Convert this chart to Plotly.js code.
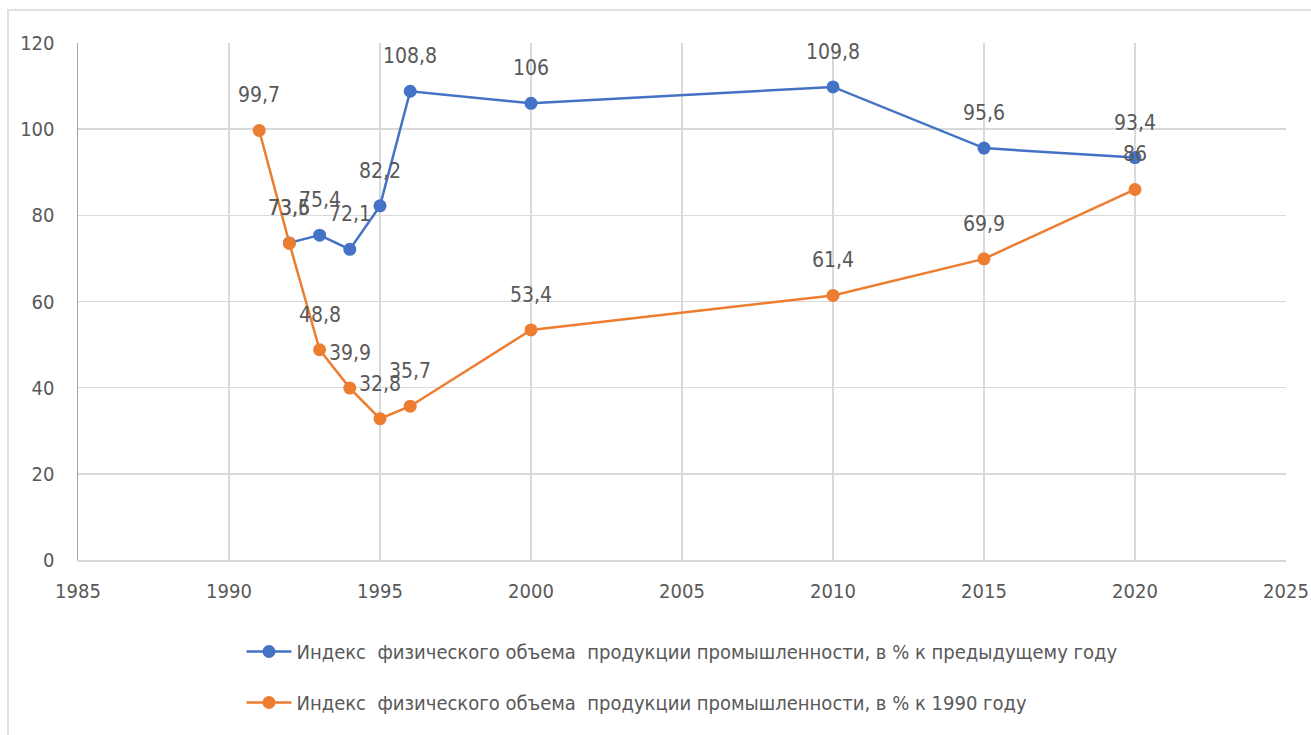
<!DOCTYPE html>
<html>
<head>
<meta charset="utf-8">
<script src="https://cdn.plot.ly/plotly-3.0.1.min.js"></script>
<style>html,body{margin:0;padding:0;background:#fff;}#chart{width:1311px;height:735px;}</style>
</head>
<body>
<div id="chart"></div>
<script>
const yearsPrev = [1992, 1993, 1994, 1995, 1996, 2000, 2010, 2015, 2020];
const valuesPrev = [73.6, 75.4, 72.1, 82.2, 108.8, 106, 109.8, 95.6, 93.4];
const years1990 = [1991, 1992, 1993, 1994, 1995, 1996, 2000, 2010, 2015, 2020];
const values1990 = [99.7, 73.5, 48.8, 39.9, 32.8, 35.7, 53.4, 61.4, 69.9, 86];
const namePrev = 'Индекс  физического объема  продукции промышленности, в % к предыдущему году';
const name1990 = 'Индекс  физического объема  продукции промышленности, в % к 1990 году';
const xTicks = [1985, 1990, 1995, 2000, 2005, 2010, 2015, 2020, 2025];
const yTicks = [0, 20, 40, 60, 80, 100, 120];

const fmt = v => String(v).replace('.', ',');
const FONT = 'Liberation Sans Narrow, DejaVu Sans Condensed, Arial Narrow, sans-serif';

const traces = [
  {
    x: yearsPrev, y: valuesPrev, name: namePrev, legendgroup: 'a', type: 'scatter', mode: 'lines+markers',
    line: {color: '#4472C4', width: 2.5}, marker: {color: '#4472C4', size: 13}, cliponaxis: false
  },
  {
    x: years1990, y: values1990, name: name1990, legendgroup: 'b', type: 'scatter', mode: 'lines+markers',
    line: {color: '#ED7D31', width: 2.5}, marker: {color: '#ED7D31', size: 13}, cliponaxis: false
  }
];

const labelAnn = (xs, ys) => xs.map((x, i) => ({
  x: x, y: ys[i], xref: 'x', yref: 'y', text: fmt(ys[i]), showarrow: false,
  yshift: 35, xanchor: 'center', yanchor: 'middle',
  font: {family: FONT, size: 21, color: '#595959'}
}));

const L = 78, T = 43, R = 1286, B = 560;
const pw = R - L, ph = B - T;
const layout = {
  width: 1311, height: 735,
  margin: {l: L, r: 1311 - R, t: T, b: 735 - B, pad: 0, autoexpand: false},
  paper_bgcolor: '#ffffff', plot_bgcolor: '#ffffff',
  showlegend: true,
  legend: {
    orientation: 'v', x: 0.5, xanchor: 'center', yref: 'container', y: (735 - 632) / 735, yanchor: 'top',
    font: {family: FONT, size: 20, color: '#595959'}, tracegroupgap: 22, itemwidth: 45
  },
  xaxis: {
    range: [1985, 2025], tickvals: xTicks, ticktext: xTicks.map(String),
    showgrid: true, gridcolor: '#D9D9D9', gridwidth: 1.5,
    zeroline: false, showline: true, linecolor: '#D9D9D9', linewidth: 1.5,
    ticks: '', tickfont: {family: FONT, size: 20, color: '#595959'}, ticklabelstandoff: 12
  },
  yaxis: {
    range: [0, 120], tickvals: yTicks, ticktext: yTicks.map(String),
    showgrid: true, gridcolor: '#D9D9D9', gridwidth: 1.5,
    zeroline: false, showline: true, linecolor: '#A6A6A6', linewidth: 1.5,
    ticks: '', tickfont: {family: FONT, size: 20, color: '#595959'}, ticklabelstandoff: 18
  },
  annotations: labelAnn(yearsPrev, valuesPrev).concat(labelAnn(years1990, values1990)),
  shapes: [
    {type: 'rect', xref: 'paper', yref: 'paper', layer: 'below',
     x0: (8 - L) / pw, x1: (1330 - L) / pw, y0: -(760 - B) / ph, y1: 1 + (T - 10) / ph,
     line: {color: '#E0E0E0', width: 2}, fillcolor: 'rgba(0,0,0,0)'}
  ]
};

Plotly.newPlot('chart', traces, layout, {displayModeBar: false, staticPlot: true});
</script>
</body>
</html>
